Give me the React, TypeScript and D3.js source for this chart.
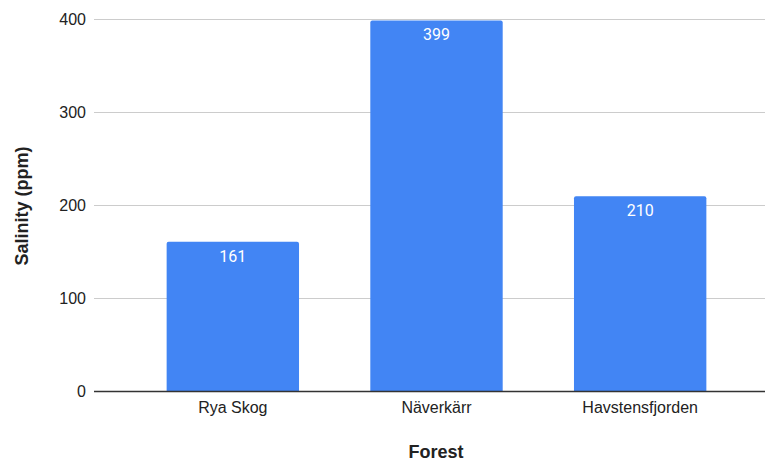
import * as d3 from "d3";
import { useEffect, useRef } from "react";

const forests = ["Rya Skog", "Näverkärr", "Havstensfjorden"];
const salinity = [161, 399, 210];
const yTicks = [0, 100, 200, 300, 400];

export default function App() {
    const ref = useRef<SVGSVGElement>(null);
    const width = 765,
        height = 463;

    useEffect(() => {
        const svg = d3.select(ref.current);
        svg.selectAll("*").remove();

        const x = d3.scaleBand<string>()
            .domain(forests)
            .range([131, 742])
            .paddingInner(0.35)
            .paddingOuter(0.175);

        const y = d3.scaleLinear().domain([0, 400]).range([391.5, 19.5]);

        const font = "Arial, 'Liberation Sans', sans-serif";
        const labelFont = "Roboto, Arial, sans-serif";

        // gridlines
        svg.append("g")
            .selectAll("line")
            .data(yTicks.filter(t => t !== 0))
            .join("line")
            .attr("x1", 94)
            .attr("x2", width)
            .attr("y1", d => y(d))
            .attr("y2", d => y(d))
            .attr("stroke", "#cccccc")
            .attr("stroke-width", 1);

        // tick labels
        svg.append("g")
            .selectAll("text")
            .data(yTicks)
            .join("text")
            .attr("x", 86)
            .attr("y", d => y(d) + 5.5)
            .attr("text-anchor", "end")
            .style("font-family", font)
            .style("font-size", "16px")
            .attr("fill", "#222")
            .text(d => d);

        const bw = x.bandwidth();
        const r = 2;
        svg.append("g")
            .selectAll("path")
            .data(salinity)
            .join("path")
            .attr("d", (d, i) => {
                const x0 = x(forests[i])!;
                const y0 = y(d);
                const yb = y(0);
                return `M${x0},${yb}V${y0 + r}Q${x0},${y0} ${x0 + r},${y0}H${x0 + bw - r}Q${x0 + bw},${y0} ${x0 + bw},${y0 + r}V${yb}Z`;
            })
            .attr("fill", "#4285f4");

        // value labels
        svg.append("g")
            .selectAll("text")
            .data(salinity)
            .join("text")
            .attr("x", (d, i) => x(forests[i])! + bw / 2)
            .attr("y", d => y(d) + 20)
            .attr("text-anchor", "middle")
            .style("font-family", labelFont)
            .style("font-size", "16px")
            .attr("fill", "#ffffff")
            .text(d => d);

        // baseline
        svg.append("line")
            .attr("x1", 94)
            .attr("x2", width)
            .attr("y1", y(0))
            .attr("y2", y(0))
            .attr("stroke", "#333333")
            .attr("stroke-width", 1.3);

        // category labels
        svg.append("g")
            .selectAll("text")
            .data(forests)
            .join("text")
            .attr("x", d => x(d)! + bw / 2)
            .attr("y", 413)
            .attr("text-anchor", "middle")
            .style("font-family", font)
            .style("font-size", "16px")
            .attr("fill", "#222")
            .text(d => d);

        svg.append("text")
            .attr("x", 436)
            .attr("y", 458)
            .attr("text-anchor", "middle")
            .style("font-family", font)
            .style("font-size", "18px")
            .style("font-weight", "bold")
            .attr("fill", "#222")
            .text("Forest");

        svg.append("text")
            .attr("transform", `translate(28, 206) rotate(-90)`)
            .attr("text-anchor", "middle")
            .style("font-family", font)
            .style("font-size", "18px")
            .style("font-weight", "bold")
            .attr("fill", "#222")
            .text("Salinity (ppm)");
    }, []);

    return (
        <svg
            ref={ref}
            width={width}
            height={height}
            style={{ position: "absolute", left: 0, top: 0, background: "#fff" }}
        ></svg>
    );
}
